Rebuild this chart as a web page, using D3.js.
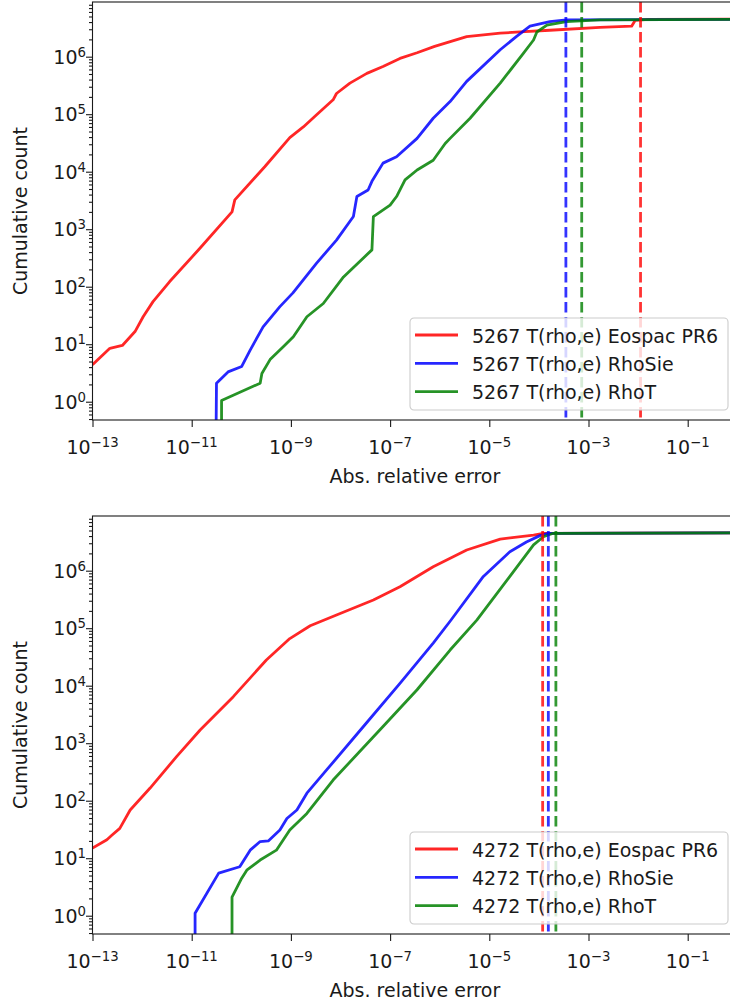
<!DOCTYPE html>
<html>
<head>
<meta charset="utf-8">
<script src="https://cdn.jsdelivr.net/npm/d3@7"></script>
<style>
  body { margin: 0; background: #fff; overflow: hidden; }
  text { font-family: "DejaVu Sans", sans-serif; fill: #1a1a1a; }
</style>
</head>
<body>
<div id="chart"></div>
<script>

// [abs. relative error, cumulative count]
var eospac_5267 = [
    [1e-13, 4.4], [2.24e-13, 8.5], [4.0e-13, 9.5], [7.2e-13, 16.6], [1.05e-12, 30],
    [1.66e-12, 55], [3.6e-12, 123], [1.48e-11, 470], [6.5e-11, 2000], [7.4e-11, 3240],
    [3.0e-10, 12300], [9.5e-10, 39000], [1.78e-9, 60000], [3.3e-9, 98000], [7.1e-9, 178000],
    [8.3e-9, 229000], [1.55e-8, 347000], [3.4e-8, 513000], [7.2e-8, 676000], [1.58e-7, 933000],
    [3.5e-7, 1.17e6], [7.9e-7, 1.51e6], [3.5e-6, 2.24e6], [1.66e-5, 2.57e6], [4.2e-5, 2.69e6],
    [1.66e-4, 2.88e6], [1.7e-3, 3.24e6], [7.4e-3, 3.39e6], [8.7e-3, 4.27e6], [1.6e-2, 4.45e6],
    [1, 4.5e6]
];
var rhosie_5267 = [
    [3.1e-11, 0.3], [3.16e-11, 2.1], [5.4e-11, 3.3], [1.02e-10, 4.1], [1.51e-10, 7.9],
    [2.75e-10, 20], [6.0e-10, 45], [1.1e-9, 78], [3.3e-9, 257], [8.3e-9, 646],
    [1.82e-8, 1660], [2.14e-8, 3700], [3.6e-8, 4800], [4.3e-8, 6800], [7.2e-8, 14100],
    [1.35e-7, 18200], [3.5e-7, 38000], [7.4e-7, 85000], [1.62e-6, 166000], [3.5e-6, 372000],
    [1.66e-5, 1.32e6], [3.5e-5, 2.24e6], [6.6e-5, 3.39e6], [1.66e-4, 4.07e6], [3.6e-4, 4.37e6],
    [1, 4.47e6]
];
var rhot_5267 = [
    [4.0e-11, 0.3], [4.0e-11, 1.05], [2.4e-10, 2.1], [2.6e-10, 3.1], [3.8e-10, 5.4],
    [7.1e-10, 9.1], [1.12e-9, 13.5], [2.1e-9, 30], [4.5e-9, 51], [1.15e-8, 148],
    [4.3e-8, 437], [4.6e-8, 1660], [1.0e-7, 2630], [1.35e-7, 3700], [2.0e-7, 7200],
    [3.5e-7, 10700], [7.4e-7, 15800], [1.29e-6, 31000], [1.62e-6, 38000], [4.1e-6, 85000],
    [1.66e-5, 347000], [4.9e-5, 1.15e6], [7.8e-5, 1.95e6], [9.1e-5, 2.69e6], [1.45e-4, 3.55e6],
    [3.6e-4, 4.07e6], [1.7e-3, 4.37e6], [1, 4.47e6]
];

var eospac_4272 = [
    [1e-13, 15], [1.95e-13, 21], [2.45e-13, 25], [3.55e-13, 33], [5.75e-13, 69],
    [1.45e-12, 166], [5.0e-12, 590], [1.48e-11, 1700], [6.9e-11, 6450], [3.2e-10, 28000],
    [9.5e-10, 66000], [2.45e-9, 110000], [8.3e-9, 170000], [4.6e-8, 309000], [1.58e-7, 525000],
    [7.4e-7, 1.17e6], [3.5e-6, 2.29e6], [1.66e-5, 3.55e6], [7.8e-5, 4.17e6], [1.23e-4, 4.47e6],
    [1, 4.55e6]
];
var rhosie_4272 = [
    [1.17e-11, 0.3], [1.17e-11, 1.1], [3.5e-11, 5.5], [9.3e-11, 7.1], [1.51e-10, 13.8],
    [2.4e-10, 19.5], [3.5e-10, 20], [6.0e-10, 31], [8.3e-10, 49], [1.32e-9, 69],
    [2.1e-9, 135], [5.2e-9, 339], [2.9e-8, 1950], [1.58e-7, 11000], [7.4e-7, 55000],
    [1.62e-6, 132000], [7.6e-6, 794000], [2.6e-5, 2.14e6], [5.6e-5, 3.16e6], [1.05e-4, 4.07e6],
    [1.55e-4, 4.47e6], [1, 4.55e6]
];
var rhot_4272 = [
    [6.5e-11, 0.3], [6.5e-11, 2.1], [1.02e-10, 4.5], [1.29e-10, 6.2], [2.4e-10, 9.3],
    [5.1e-10, 13.8], [9.5e-10, 31], [2.1e-9, 60], [7.1e-9, 229], [7.2e-8, 1950],
    [3.5e-7, 8500], [1.62e-6, 41700], [5.6e-6, 138000], [2.6e-5, 794000], [7.8e-5, 2.82e6],
    [1.23e-4, 3.89e6], [1.95e-4, 4.47e6], [1, 4.55e6]
];

// vertical dashed markers: [eospac, rhosie, rhot]
var marks_5267 = [1.12e-2, 3.5e-4, 7.3e-4];
var marks_4272 = [1.19e-4, 1.55e-4, 2.2e-4];

var names = ["T(rho,e) Eospac PR6", "T(rho,e) RhoSie", "T(rho,e) RhoT"];
var colors = ["#ff0000", "#0000ff", "#008000"];

var x_exps = [-13, -11, -9, -7, -5, -3, -1];
var y_exps = [0, 1, 2, 3, 4, 5, 6];

var width = 730,
    height = 1004;

var svg = d3.select("#chart").append("svg")
    .attr("width", width)
    .attr("height", height);

function sup(sel, e) {
    sel.append("tspan").text("10");
    sel.append("tspan")
        .attr("dy", -7)
        .style("font-size", "13.3px")
        .text(e < 0 ? "\u2212" + (-e) : e);
}

function panel(id, top, series, marks, label) {
    var left = 92.5,
        right = 737.3,
        bottom = top + 418;

    var x = d3.scaleLog().domain([1e-13, 1]).range([left, right]),
        y = d3.scaleLog().domain([Math.pow(10, -0.318), Math.pow(10, 6.951)]).range([bottom, top]);

    var g = svg.append("g");

    g.append("clipPath").attr("id", "clip" + id)
        .append("rect")
        .attr("x", left).attr("y", top)
        .attr("width", right - left).attr("height", bottom - top);

    // minor ticks on y
    var minor = [];
    for (var k = -1; k <= 6; k++) {
        for (var m = 2; m <= 9; m++) {
            var v = m * Math.pow(10, k);
            if (v > y.domain()[0] && v < y.domain()[1]) minor.push(v);
        }
    }

    var yMinor = g.append("g")
        .attr("transform", "translate(" + left + ",0)")
        .call(d3.axisLeft(y).tickValues(minor).tickSize(3.5).tickSizeOuter(0).tickFormat(""));
    var yMajor = g.append("g")
        .attr("transform", "translate(" + left + ",0)")
        .call(d3.axisLeft(y).tickValues(y_exps.map(function(e) { return Math.pow(10, e); }))
            .tickSize(6.5).tickSizeOuter(0).tickFormat(""));
    var xMajor = g.append("g")
        .attr("transform", "translate(0," + bottom + ")")
        .call(d3.axisBottom(x).tickValues(x_exps.map(function(e) { return Math.pow(10, e); }))
            .tickSize(7).tickSizeOuter(0).tickFormat(""));

    [yMinor, yMajor, xMajor].forEach(function(a) {
        a.select(".domain").remove();
        a.selectAll("line").attr("stroke", "#1a1a1a").attr("stroke-width", 1.1);
    });

    y_exps.forEach(function(e) {
        g.append("text")
            .attr("x", 86)
            .attr("y", y(Math.pow(10, e)) + 7)
            .attr("text-anchor", "end")
            .style("font-size", "19px")
            .call(sup, e);
    });

    x_exps.forEach(function(e) {
        g.append("text")
            .attr("x", x(Math.pow(10, e)))
            .attr("y", bottom + 34)
            .attr("text-anchor", "middle")
            .style("font-size", "19px")
            .call(sup, e);
    });

    g.append("text")
        .attr("x", (left + right) / 2)
        .attr("y", bottom + 63)
        .attr("text-anchor", "middle")
        .style("font-size", "19px")
        .text("Abs. relative error");

    g.append("text")
        .attr("transform", "translate(27.3," + ((top + bottom) / 2) + ") rotate(-90)")
        .attr("text-anchor", "middle")
        .style("font-size", "19px")
        .text("Cumulative count");

    var line = d3.line()
        .x(function(d) { return x(d[0]); })
        .y(function(d) { return y(d[1]); });

    var plot = g.append("g").attr("clip-path", "url(#clip" + id + ")");

    plot.selectAll("path.curve")
        .data(series)
        .enter().append("path")
        .attr("class", "curve")
        .attr("d", line)
        .attr("fill", "none")
        .attr("stroke", function(d, i) { return colors[i]; })
        .attr("stroke-width", 2.8)
        .attr("stroke-opacity", 0.85)
        .attr("stroke-linejoin", "round");

    plot.selectAll("line.mark")
        .data(marks)
        .enter().append("line")
        .attr("class", "mark")
        .attr("x1", function(d) { return x(d); })
        .attr("x2", function(d) { return x(d); })
        .attr("y1", top)
        .attr("y2", bottom)
        .attr("stroke", function(d, i) { return colors[i]; })
        .attr("stroke-width", 2.8)
        .attr("stroke-opacity", 0.8)
        .attr("stroke-dasharray", "10.5,4.5");

    // frame
    g.append("rect")
        .attr("x", left).attr("y", top)
        .attr("width", right - left).attr("height", bottom - top)
        .attr("fill", "none")
        .attr("stroke", "#1a1a1a")
        .attr("stroke-width", 1.1);

    // legend, lower right
    var lg = g.append("g").attr("transform", "translate(410," + (bottom - 102) + ")");
    lg.append("rect")
        .attr("width", 318).attr("height", 92)
        .attr("rx", 4)
        .attr("fill", "#fff").attr("fill-opacity", 0.8)
        .attr("stroke", "#cccccc").attr("stroke-width", 1.1);

    names.forEach(function(n, i) {
        var cy = 17 + i * 28.3;
        lg.append("line")
            .attr("x1", 5).attr("x2", 48)
            .attr("y1", cy).attr("y2", cy)
            .attr("stroke", colors[i])
            .attr("stroke-opacity", 0.85)
            .attr("stroke-width", 2.8);
        lg.append("text")
            .attr("x", 62)
            .attr("y", cy + 7.5)
            .style("font-size", "19px")
            .text(label + " " + n);
    });
}

panel("a", 2, [eospac_5267, rhosie_5267, rhot_5267], marks_5267, "5267");
panel("b", 516, [eospac_4272, rhosie_4272, rhot_4272], marks_4272, "4272");

</script>
</body>
</html>
